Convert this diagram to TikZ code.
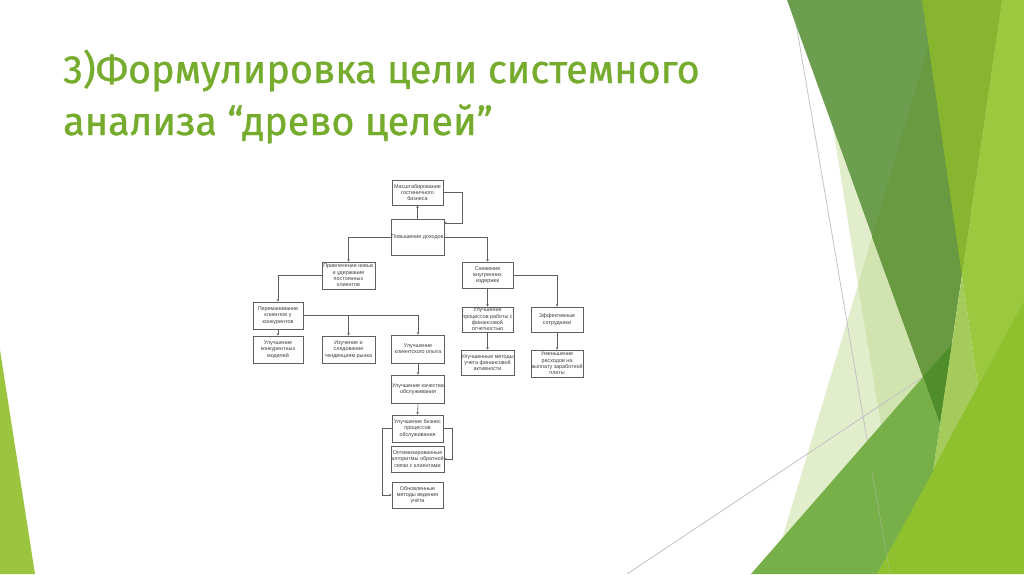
\documentclass[tikz,border=0pt]{standalone}
\usepackage{fontspec}
\setmainfont{Liberation Sans}
\newfontfamily\titlefont[FakeBold=0.9]{Fira Sans}
\usetikzlibrary{arrows.meta}
\definecolor{titlegreen}{RGB}{118,172,46}
\definecolor{pale}{RGB}{226,237,204}
\definecolor{paledark}{RGB}{209,227,174}
\definecolor{olive}{RGB}{109,158,79}
\definecolor{olivetwo}{RGB}{105,154,66}
\definecolor{ygreen}{RGB}{136,181,48}
\definecolor{darkest}{RGB}{79,142,42}
\definecolor{bright}{RGB}{154,200,63}
\definecolor{bgreen}{RGB}{143,192,45}
\definecolor{lightband}{RGB}{164,203,92}
\definecolor{medgreen}{RGB}{119,175,73}
\definecolor{leftgreen}{RGB}{155,197,63}
\definecolor{thinline}{RGB}{195,195,195}
\definecolor{linegray}{RGB}{95,95,95}
\definecolor{textgray}{RGB}{60,60,60}
\begin{document}
\begin{tikzpicture}[x=1pt,y=-1pt,
  box/.style={draw=linegray, line width=0.6pt, fill=white, align=center,
    font=\fontsize{5.4}{6.3}\selectfont, text=textgray, inner sep=0.3pt,
    minimum width=51pt, minimum height=26pt},
  conn/.style={draw=linegray, line width=0.6pt, -{Stealth[length=2.6pt,width=2.4pt]}},
  plain/.style={draw=linegray, line width=0.6pt}]
\useasboundingbox (0,0) rectangle (1024,574);
\fill[white] (0,0) rectangle (1024,574);
% background decoration
\fill[leftgreen] (0,350) -- (0,574) -- (35,574) -- cycle;
\fill[pale] (833,127) -- (858,285) -- (782,539) -- (923,377) -- cycle;
\fill[paledark] (872,237) -- (858,285) -- (881,425) -- (923,377) -- cycle;
\draw[thinline, line width=0.8pt] (792,0) -- (890,574);
\draw[thinline, line width=0.8pt] (627,574) -- (923,377);
\fill[olive] (787,0) -- (1002,0) -- (940,424) -- cycle;
\fill[olivetwo] (942,0) -- (872,237) -- (940,424) -- (1002,0) -- cycle;
\fill[ygreen] (922,0) -- (1002,0) -- (962,276) -- cycle;
\fill[darkest] (923,377) -- (952,344) -- (940,424) -- cycle;
\fill[lightband] (962,276) -- (940,424) -- (933,471) -- (978,386) -- cycle;
\fill[bright] (1002,0) -- (1024,0) -- (1024,300) -- (978,386) -- (962,276) -- cycle;
\fill[bgreen] (877,574) -- (1024,300) -- (1024,574) -- cycle;
\fill[medgreen] (751,574) -- (923,377) -- (940,424) -- (933,471) -- (877,574) -- cycle;
\draw[thinline, line width=0.6pt, opacity=0.5] (872,472) -- (890,574);
% title
\node[anchor=base west, inner sep=0, text=titlegreen, font=\titlefont\fontsize{39.5}{45}\selectfont] (t1) at (63,83) {3)Формулировка цели системного};
\node[anchor=base west, inner sep=0, text=titlegreen, font=\titlefont\fontsize{39.5}{45}\selectfont] (t2) at (63,135) {анализа “древо целей”};
% diagram
\node[box, minimum height=25pt] (m1) at (417.5,192.5) {Масштабирование\\гостиничного\\бизнеса};
\node[box, minimum height=36pt] (p) at (417.5,237) {Повышение доходов};
\node[box, minimum width=53pt, minimum height=27pt] (a1) at (348.5,275.5) {Привлечение новых\\и удержание\\постоянных\\клиентов};
\node[box] (b1) at (487.5,275) {Снижение\\внутренних\\издержек};
\node[box, minimum width=50pt, minimum height=27pt] (a2) at (278,315.5) {Переманивание\\клиентов у\\конкурентов};
\node[box, minimum width=50pt, minimum height=27pt] (a3) at (278,349.5) {Улучшение\\конкурентных\\моделей};
\node[box, minimum width=53pt, minimum height=27pt] (a4) at (348.5,349.5) {Изучение и\\следование\\тенденциям рынка};
\node[box, minimum width=53pt, minimum height=28pt] (a5) at (418,349) {Улучшение\\клиентского опыта};
\node[box, minimum width=53pt, minimum height=28pt] (a6) at (418,389) {Улучшение качества\\обслуживания};
\node[box, minimum height=27pt] (a7) at (417.5,428.5) {Улучшение бизнес\\процессов\\обслуживания};
\node[box] (a8) at (417.5,459) {Оптимизированные\\алгоритмы обратной\\связи с клиентами};
\node[box] (a9) at (417.5,495) {Обновленные\\методы ведения\\учёта};
\node[box, minimum height=25pt] (b2) at (487.5,319.5) {Улучшение\\процессов работы с\\финансовой\\отчетностью};
\node[box, minimum width=52pt, minimum height=25pt] (b3) at (557,319.5) {Эффективные\\сотрудники};
\node[box, minimum height=25pt] (b4) at (487.5,362.5) {Улучшенные методы\\учета финансовой\\активности};
\node[box, minimum width=52pt, minimum height=27pt] (b5) at (557,363.5) {Уменьшение\\расходов на\\выплату заработной\\платы};
% connectors
\draw[conn] (p.north) -- (m1.south);
\draw[conn] (m1.east) -- ++(19,0) |- ([yshift=14pt]p.east);
\draw[conn] (p.west) -| (a1.north);
\draw[conn] (p.east) -| (b1.north);
\draw[conn] (a1.west) -| (a2.north);
\draw[conn] (a2.south) -- (a3.north);
\draw[conn] (a2.east) -| (a5.north);
\draw[conn] (a4.north |- a2.east) -- (a4.north);
\draw[conn] (a5.south) -- (a6.north);
\draw[conn] (a6.south) -- (a7.north);
\draw[conn] (a7.east) -- ++(9,0) |- (a8.east);
\draw[conn] (a7.west) -- ++(-9,0) |- (a9.west);
\draw[conn] (b1.east) -| (b3.north);
\draw[conn] (b1.south) -- (b2.north);
\draw[conn] (b2.south) -- (b4.north);
\draw[conn] (b3.south) -- (b5.north);
\end{tikzpicture}
\end{document}
